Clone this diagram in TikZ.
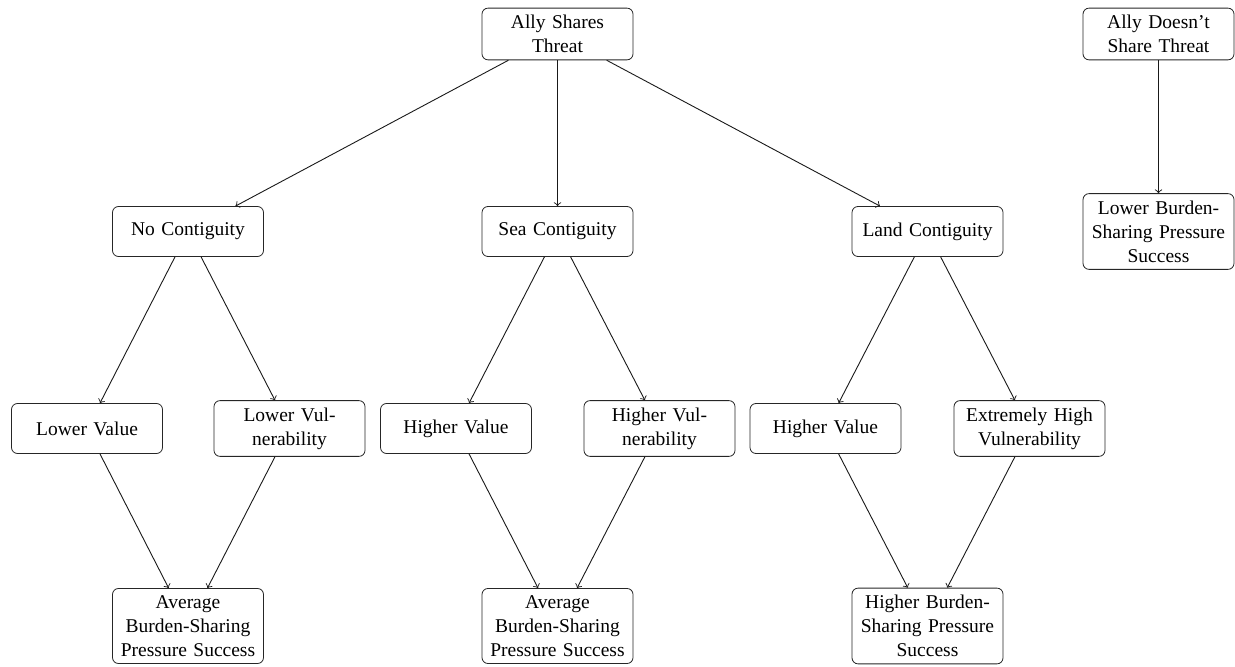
\documentclass[tikz,border=0pt]{standalone}
\usepackage{fontspec}
\setmainfont{Liberation Serif}
\begin{document}
\begin{tikzpicture}[x=0.5pt,y=-0.5pt,
  box/.style={draw=black!85, rounded corners=3pt, align=center, text width=75pt,
    inner xsep=0.25pt, inner ysep=3.5pt, minimum height=25pt, font=\fontsize{9.75pt}{12pt}\selectfont},
  arr/.style={->, line width=0.45pt, black!90}]
\useasboundingbox (0,0) rectangle (1235,667);
\node[box] (ast) at (557.5,34) {Ally Shares\\Threat};
\node[box] (adst) at (1158.5,34) {Ally Doesn't\\Share Threat};
\node[box] (lbs) at (1158.5,231.5) {Lower Burden-\\Sharing Pressure\\Success};
\node[box] (nc) at (188,231.5) {No Contiguity};
\node[box] (sc) at (557.5,231.5) {Sea Contiguity};
\node[box] (lc) at (927.5,231.5) {Land Contiguity};
\node[box] (lv) at (87,428.5) {Lower Value};
\node[box] (lvu) at (289.5,428.5) {Lower Vul-\\nerability};
\node[box] (hv1) at (456,428.5) {Higher Value};
\node[box] (hvu) at (659.5,428.5) {Higher Vul-\\nerability};
\node[box] (hv2) at (825.5,428.5) {Higher Value};
\node[box] (ehv) at (1029.5,428.5) {Extremely High\\Vulnerability};
\node[box] (avg1) at (188,626) {Average\\Burden-Sharing\\Pressure Success};
\node[box] (avg2) at (557.5,626) {Average\\Burden-Sharing\\Pressure Success};
\node[box] (hbs) at (927.5,626) {Higher Burden-\\Sharing Pressure\\Success};
\draw[arr] (ast) -- (nc);
\draw[arr] (ast) -- (sc);
\draw[arr] (ast) -- (lc);
\draw[arr] (adst) -- (lbs);
\draw[arr] (nc) -- (lv);
\draw[arr] (nc) -- (lvu);
\draw[arr] (sc) -- (hv1);
\draw[arr] (sc) -- (hvu);
\draw[arr] (lc) -- (hv2);
\draw[arr] (lc) -- (ehv);
\draw[arr] (lv) -- (avg1);
\draw[arr] (lvu) -- (avg1);
\draw[arr] (hv1) -- (avg2);
\draw[arr] (hvu) -- (avg2);
\draw[arr] (hv2) -- (hbs);
\draw[arr] (ehv) -- (hbs);
\end{tikzpicture}
\end{document}
